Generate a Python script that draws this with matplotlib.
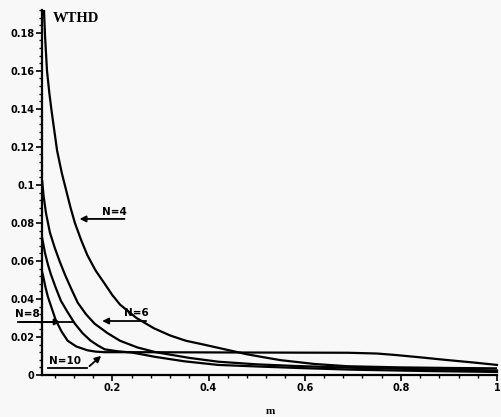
import numpy as np
import matplotlib
matplotlib.use('Agg')
from matplotlib import pyplot as plt
from matplotlib.ticker import MultipleLocator

# WTHD against modulation index m, one curve per N
m4 = [0.056, 0.058, 0.060, 0.064, 0.069, 0.074, 0.085, 0.095, 0.103, 0.113, 0.122, 0.135, 0.148,
      0.165, 0.184, 0.200, 0.216, 0.25, 0.287, 0.32, 0.353, 0.39, 0.42, 0.45, 0.48, 0.52, 0.55,
      0.62, 0.69, 0.8, 0.9, 1.0]
w4 = [0.21, 0.19, 0.178, 0.160, 0.148, 0.138, 0.118, 0.106, 0.098, 0.088, 0.080, 0.071, 0.063,
      0.055, 0.048, 0.042, 0.037, 0.030, 0.0245, 0.0208, 0.0180, 0.0160, 0.0143, 0.0126, 0.0109,
      0.0091, 0.0078, 0.0058, 0.0046, 0.0040, 0.0037, 0.0035]

m6 = [0.054, 0.057, 0.062, 0.070, 0.080, 0.090, 0.101, 0.115, 0.128, 0.145, 0.163, 0.19, 0.216,
      0.252, 0.29, 0.36, 0.42, 0.5, 0.585, 0.7, 0.85, 1.0]
w6 = [0.102, 0.094, 0.085, 0.075, 0.067, 0.060, 0.053, 0.045, 0.038, 0.032, 0.027, 0.022, 0.018,
      0.0145, 0.012, 0.0090, 0.0070, 0.0056, 0.0047, 0.0038, 0.0030, 0.0024]

m8 = [0.054, 0.057, 0.060, 0.066, 0.072, 0.082, 0.093, 0.107, 0.122, 0.138, 0.155, 0.17, 0.184,
      0.21, 0.241, 0.29, 0.35, 0.42, 0.5, 0.585, 0.7, 0.85, 1.0]
w8 = [0.072, 0.068, 0.064, 0.058, 0.053, 0.046, 0.039, 0.033, 0.027, 0.022, 0.018, 0.0155, 0.0135,
      0.0125, 0.0118, 0.0095, 0.0072, 0.0053, 0.0045, 0.0037, 0.0028, 0.0021, 0.0016]

m10 = [0.054, 0.056, 0.061, 0.066, 0.074, 0.082, 0.094, 0.107, 0.125, 0.148, 0.165, 0.184, 0.25,
       0.38, 0.52, 0.69, 0.75, 0.79, 0.84, 0.895, 0.95, 1.0]
w10 = [0.054, 0.052, 0.046, 0.041, 0.035, 0.029, 0.023, 0.018, 0.0150, 0.0130, 0.0123, 0.0120,
       0.0120, 0.0119, 0.0118, 0.0117, 0.0113, 0.0105, 0.0093, 0.0079, 0.0066, 0.0053]

y_ticks = [0, 0.02, 0.04, 0.06, 0.08, 0.1, 0.12, 0.14, 0.16, 0.18]
y_ticklabels = ['0', '0.02', '0.04', '0.06', '0.08', '0.1', '0.12', '0.14', '0.16', '0.18']
x_ticks = [0.2, 0.4, 0.6, 0.8, 1.0]
x_ticklabels = ['0.2', '0.4', '0.6', '0.8', '1']

bg = '#f8f8f8'
fig = plt.figure(figsize=(5.01, 4.17), dpi=100, facecolor=bg)
ax = fig.add_axes([42 / 501, 42 / 417, 455 / 501, 365 / 417])
ax.set_facecolor(bg)

for mm, ww in [(m4, w4), (m6, w6), (m8, w8), (m10, w10)]:
    ax.plot(mm, ww, color='black', lw=1.6, solid_joinstyle='round', clip_on=False)

ax.set_xlim(0.0536, 1.0)
ax.set_ylim(0, 0.192)
# keep the steep N=4 start from spilling over the top
ax.lines[0].set_clip_on(True)

for s in ['top', 'right']:
    ax.spines[s].set_visible(False)
for s in ['left', 'bottom']:
    ax.spines[s].set_linewidth(1.6)

ax.set_xticks(x_ticks)
ax.set_xticklabels(x_ticklabels)
ax.set_yticks(y_ticks)
ax.set_yticklabels(y_ticklabels)
ax.xaxis.set_minor_locator(MultipleLocator(0.04))
ax.yaxis.set_minor_locator(MultipleLocator(0.004))
ax.tick_params(axis='both', which='major', length=4, width=1.2, labelsize=7, pad=1.5)
ax.tick_params(axis='both', which='minor', length=2, width=1.0)
for lab in ax.get_xticklabels() + ax.get_yticklabels():
    lab.set_fontweight('bold')
    lab.set_family('DejaVu Sans')

fig.text(53 / 501, 1 - 18 / 417, 'WTHD', family='Liberation Serif', fontweight='bold',
         fontsize=10.5, va='center', ha='left')
fig.text(270 / 501, 1 - 411 / 417, 'm', family='Liberation Serif', fontweight='bold',
         fontsize=8, va='center', ha='center')

lbl = dict(fontsize=7.5, fontweight='bold', ha='center', va='center', clip_on=False)
arr = dict(arrowstyle='-|>', color='black', lw=1.3, mutation_scale=9)

# N=4
ax.text(0.204, 0.0858, 'N=4', **lbl)
ax.annotate('', xy=(0.126, 0.0821), xytext=(0.231, 0.0821), arrowprops=arr)
# N=6
ax.text(0.249, 0.0326, 'N=6', **lbl)
ax.annotate('', xy=(0.173, 0.0284), xytext=(0.276, 0.0284), arrowprops=arr)
# N=8
ax.text(0.0227, 0.0321, 'N=8', **lbl)
ax.annotate('', xy=(0.098, 0.0279), xytext=(0.004, 0.0279), arrowprops=arr,
            annotation_clip=False)
ax.plot([0.004, 0.115], [0.0279, 0.0279], color='black', lw=1.3, clip_on=False)
# N=10
ax.text(0.101, 0.0076, 'N=10', **lbl)
ax.plot([0.066, 0.148], [0.0037, 0.0037], color='black', lw=1.3)
ax.annotate('', xy=(0.181, 0.011), xytext=(0.148, 0.0037), arrowprops=arr)

fig.savefig('out.png', dpi=100, facecolor=bg)
